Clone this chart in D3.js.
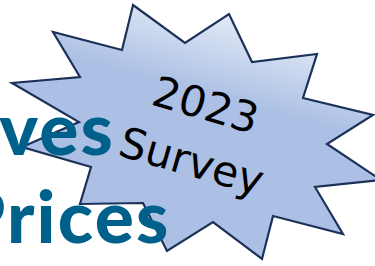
<!DOCTYPE html>
<html lang="en">
<head>
  <meta charset="UTF-8">
  <title>2023 Survey</title>
  <script src="https://cdnjs.cloudflare.com/ajax/libs/d3/7.8.5/d3.min.js"></script>
  <style>
    html, body {
      margin: 0;
      padding: 0;
      background: #fff;
      overflow: hidden;
    }
    svg { display: block; }
    .title {
      font-family: Lato, "Open Sans", sans-serif;
      font-weight: 900;
      font-size: 73px;
      letter-spacing: 2.2px;
      fill: #00608c;
    }
    .badge-text {
      font-family: "DejaVu Sans", sans-serif;
      font-size: 42.5px;
      fill: #000;
    }
  </style>
</head>
<body>
  <div id="badge"></div>
  <script>
    // headline words (cut off at the left edge of the picture)
    var titleLines = ["ves", "Prices"];
    // badge words
    var badgeLines = ["2023", "Survey"];
    // explosion outline, clockwise from the top spike (shape units)
    var starX = [133, 185, 229, 252, 317, 303, 373, 327, 381, 315, 343, 273,
                 262, 213, 167, 143, 80, 91, 22, 79, 12, 80, 53, 122];
    var starY = [5, 43, 14, 62, 54, 98, 115, 144, 180, 187, 234, 216,
                 259, 222, 251, 203, 204, 167, 147, 122, 83, 77, 32, 50];

    var width = 375, height = 266;

    var x = d3.scaleLinear().domain([0, 375]).range([0, width]);
    var y = d3.scaleLinear().domain([0, 266]).range([0, height]);

    var svg = d3.select("#badge").append("svg")
        .attr("width", width)
        .attr("height", height);

    // light top-right fading into the flat blue
    var grad = svg.append("defs").append("linearGradient")
        .attr("id", "starFill")
        .attr("gradientUnits", "userSpaceOnUse")
        .attr("x1", x(255)).attr("y1", y(0))
        .attr("x2", x(228)).attr("y2", y(100));
    grad.append("stop").attr("offset", "0%").attr("stop-color", "#f1f4fb");
    grad.append("stop").attr("offset", "100%").attr("stop-color", "#abc0e4");

    var pts = starX.map(function(d, i) { return [x(d), y(starY[i])]; });
    var outline = d3.line().curve(d3.curveLinearClosed);

    svg.append("path")
        .attr("d", outline(pts))
        .attr("fill", "url(#starFill)")
        .attr("stroke", "#1b3158")
        .attr("stroke-width", 2.2)
        .attr("stroke-linejoin", "miter");

    // rotated badge text
    var badge = svg.append("g")
        .attr("transform", "translate(" + x(192) + "," + y(131) + ") rotate(16)");
    badge.selectAll("text")
      .data(badgeLines)
      .enter().append("text")
        .attr("class", "badge-text")
        .attr("text-anchor", "middle")
        .attr("x", function(d, i) { return i === 0 ? 6 : 8; })
        .attr("y", function(d, i) { return i === 0 ? -14 : 44; })
        .text(function(d) { return d; });

    // headline on top of the star
    var ends = [115, 170.5], bases = [155, 243];
    svg.selectAll(".title")
      .data(titleLines)
      .enter().append("text")
        .attr("class", "title")
        .attr("text-anchor", "end")
        .attr("x", function(d, i) { return x(ends[i]); })
        .attr("y", function(d, i) { return y(bases[i]); })
        .text(function(d) { return d; });
  </script>
</body>
</html>
